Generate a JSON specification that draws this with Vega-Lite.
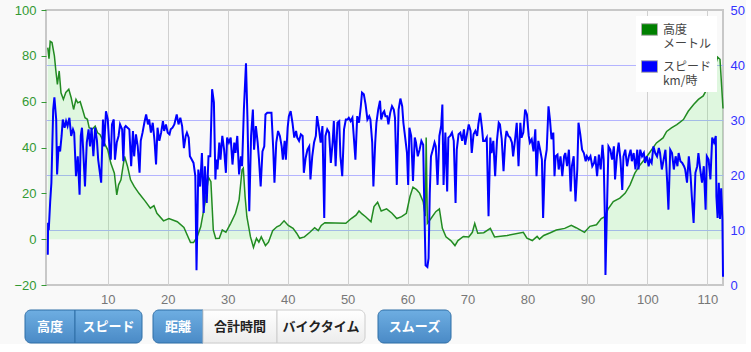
{
  "$schema": "https://vega.github.io/schema/vega-lite/v6.json",
  "background": "#f9f9f9",
  "padding": {"left": 12, "top": 3, "right": 0, "bottom": 0},
  "config": {"view": {"stroke": null}, "font": "Liberation Sans"},
  "resolve": {"legend": {"color": "independent"}},
  "datasets": {
    "alt": [
      {"km":0,"alt":83.6},{"km":0.2,"alt":78.8},{"km":0.4,"alt":86.3},{"km":0.7,"alt":85.8},{"km":1.1,"alt":80},{"km":1.35,"alt":73.4},{"km":1.6,"alt":67.5},{"km":1.9,"alt":73.4},{"km":2.2,"alt":63.9},{"km":2.6,"alt":61},{"km":3.0,"alt":64},{"km":3.5,"alt":65.4},{"km":3.9,"alt":61.7},{"km":4.3,"alt":56.6},{"km":4.7,"alt":61},{"km":5.0,"alt":59.5},{"km":5.4,"alt":60},{"km":5.8,"alt":56.6},{"km":6.2,"alt":53},{"km":6.6,"alt":52.3},{"km":6.9,"alt":48.6},{"km":7.4,"alt":48},{"km":7.9,"alt":49.3},{"km":8.3,"alt":46.4},{"km":8.7,"alt":45.7},{"km":9.4,"alt":42},{"km":10,"alt":39},{"km":10.5,"alt":33.2},{"km":11.1,"alt":28.8},{"km":11.5,"alt":19.3},{"km":11.8,"alt":23.7},{"km":12.2,"alt":25.9},{"km":12.8,"alt":36.1},{"km":13.3,"alt":31.7},{"km":13.8,"alt":25.9},{"km":14.4,"alt":23},{"km":15.2,"alt":20},{"km":16.3,"alt":16.4},{"km":17.1,"alt":13.5},{"km":17.7,"alt":14.6},{"km":18.2,"alt":11.3},{"km":19.3,"alt":8},{"km":20.2,"alt":9},{"km":21.6,"alt":7.6},{"km":22.7,"alt":5.1},{"km":23.8,"alt":-1.5},{"km":24.3,"alt":-1.5},{"km":24.9,"alt":1},{"km":25.5,"alt":5.4},{"km":26.2,"alt":15.6},{"km":26.8,"alt":27},{"km":27.2,"alt":25.1},{"km":27.6,"alt":4},{"km":28.0,"alt":0.3},{"km":28.6,"alt":0.4},{"km":29.1,"alt":4},{"km":29.7,"alt":3},{"km":30.5,"alt":6.9},{"km":31.3,"alt":11.3},{"km":31.9,"alt":17.1},{"km":32.4,"alt":30.3},{"km":32.6,"alt":31},{"km":32.9,"alt":18.6},{"km":33.2,"alt":9.8},{"km":33.8,"alt":1},{"km":34.3,"alt":-3.6},{"km":34.8,"alt":0.4},{"km":35.2,"alt":-1.3},{"km":35.6,"alt":1},{"km":36.3,"alt":-2.8},{"km":36.8,"alt":-1.3},{"km":37.5,"alt":3.7},{"km":38.2,"alt":5.4},{"km":38.7,"alt":6},{"km":39.4,"alt":8},{"km":40.1,"alt":6},{"km":40.9,"alt":4.7},{"km":41.5,"alt":2.6},{"km":42,"alt":0.4},{"km":42.8,"alt":1},{"km":43.7,"alt":3},{"km":44.5,"alt":5},{"km":45.1,"alt":3.7},{"km":45.6,"alt":6},{"km":46.2,"alt":7.2},{"km":49.7,"alt":6.9},{"km":50.6,"alt":9},{"km":51.4,"alt":10.5},{"km":51.9,"alt":12.3},{"km":52.4,"alt":11},{"km":53,"alt":9.8},{"km":53.9,"alt":7.6},{"km":54.4,"alt":14.2},{"km":55,"alt":16.1},{"km":55.6,"alt":12.3},{"km":56.5,"alt":13.2},{"km":57.4,"alt":11.3},{"km":58.2,"alt":9},{"km":59,"alt":9.8},{"km":59.8,"alt":11.3},{"km":60.4,"alt":18.6},{"km":60.9,"alt":22.7},{"km":61.5,"alt":21.6},{"km":62,"alt":20.1},{"km":62.6,"alt":16.4},{"km":62.95,"alt":10},{"km":63.1,"alt":44.4},{"km":63.3,"alt":6.9},{"km":63.9,"alt":9},{"km":64.7,"alt":12},{"km":65.3,"alt":13.2},{"km":65.8,"alt":4.7},{"km":66.4,"alt":1},{"km":67.2,"alt":-0.6},{"km":67.9,"alt":-2.8},{"km":68.4,"alt":-0.6},{"km":69.3,"alt":1.2},{"km":70.2,"alt":1},{"km":70.8,"alt":3},{"km":71.2,"alt":6.9},{"km":71.7,"alt":2.6},{"km":72.7,"alt":2.8},{"km":73.8,"alt":4.7},{"km":74.5,"alt":1},{"km":76.6,"alt":1.6},{"km":79.3,"alt":3},{"km":79.9,"alt":0.4},{"km":80.8,"alt":-0.6},{"km":81.6,"alt":1.2},{"km":82,"alt":0},{"km":82.7,"alt":1.6},{"km":83.8,"alt":2.8},{"km":84.8,"alt":4},{"km":86.2,"alt":4.7},{"km":87.3,"alt":6},{"km":88.1,"alt":5},{"km":89.5,"alt":3},{"km":90.4,"alt":5.6},{"km":91.5,"alt":6.3},{"km":92.3,"alt":9},{"km":92.9,"alt":9.8},{"km":93.4,"alt":13},{"km":94.3,"alt":16.4},{"km":95.4,"alt":17.9},{"km":96.3,"alt":20.1},{"km":97.1,"alt":23.7},{"km":97.9,"alt":28.8},{"km":98.8,"alt":32.5},{"km":99.9,"alt":36.1},{"km":100.7,"alt":39},{"km":101.5,"alt":42},{"km":102.6,"alt":44.2},{"km":103.2,"alt":47},{"km":104,"alt":48.6},{"km":104.9,"alt":50},{"km":106,"alt":52.2},{"km":106.8,"alt":55.8},{"km":107.7,"alt":58.8},{"km":108.5,"alt":61},{"km":109.3,"alt":62.5},{"km":109.9,"alt":65.4},{"km":110.3,"alt":67.5},{"km":110.7,"alt":74},{"km":111,"alt":71.8},{"km":111.3,"alt":75.5},{"km":111.7,"alt":79.4},{"km":112.1,"alt":78.5},{"km":112.6,"alt":57}
    ],
    "spd": [
      {"km":0,"spd":5.5},{"km":0.05,"spd":11.3},{"km":0.16,"spd":10},{"km":0.4,"spd":15.2},{"km":0.6,"spd":18.6},{"km":0.9,"spd":31.9},{"km":1.1,"spd":34.1},{"km":1.4,"spd":30.1},{"km":1.55,"spd":20.1},{"km":1.8,"spd":25.2},{"km":2.05,"spd":24.3},{"km":2.3,"spd":27.1},{"km":2.5,"spd":30.1},{"km":2.8,"spd":28.6},{"km":3.05,"spd":29.8},{"km":3.3,"spd":28.9},{"km":3.6,"spd":30.4},{"km":3.9,"spd":27.1},{"km":4.2,"spd":28.3},{"km":4.4,"spd":27.7},{"km":4.7,"spd":19.8},{"km":5.0,"spd":23.4},{"km":5.3,"spd":16.4},{"km":5.5,"spd":27.1},{"km":5.7,"spd":28.6},{"km":5.9,"spd":24.6},{"km":6.2,"spd":17.9},{"km":6.5,"spd":25.9},{"km":6.8,"spd":28.3},{"km":7.05,"spd":25.2},{"km":7.3,"spd":28.6},{"km":7.6,"spd":23.4},{"km":7.9,"spd":28.6},{"km":8.2,"spd":26.2},{"km":8.4,"spd":22.8},{"km":8.9,"spd":18.6},{"km":9.2,"spd":30.1},{"km":9.4,"spd":25.2},{"km":9.7,"spd":31.6},{"km":10,"spd":30.1},{"km":10.3,"spd":24.6},{"km":10.5,"spd":22.8},{"km":10.7,"spd":29.2},{"km":11,"spd":30.1},{"km":11.2,"spd":22.8},{"km":11.5,"spd":25.9},{"km":11.8,"spd":27.1},{"km":12.05,"spd":29.2},{"km":12.4,"spd":28.3},{"km":12.6,"spd":22.5},{"km":12.8,"spd":28.6},{"km":13,"spd":28.9},{"km":13.3,"spd":28.6},{"km":13.6,"spd":28.3},{"km":13.9,"spd":21.6},{"km":14.2,"spd":28},{"km":14.4,"spd":23.4},{"km":14.7,"spd":27.4},{"km":15,"spd":25.2},{"km":15.3,"spd":20.4},{"km":15.5,"spd":26.2},{"km":15.8,"spd":27.7},{"km":16.1,"spd":29.5},{"km":16.4,"spd":31},{"km":16.7,"spd":29.2},{"km":16.9,"spd":30.1},{"km":17.2,"spd":27.7},{"km":17.5,"spd":29.5},{"km":17.8,"spd":26.2},{"km":18.05,"spd":21.9},{"km":18.3,"spd":28.6},{"km":18.6,"spd":26.2},{"km":18.9,"spd":27.7},{"km":19.2,"spd":29.8},{"km":19.4,"spd":28},{"km":19.7,"spd":29.2},{"km":20,"spd":27.7},{"km":20.3,"spd":27.4},{"km":20.5,"spd":28.3},{"km":20.8,"spd":28.6},{"km":21.1,"spd":29.2},{"km":21.5,"spd":31},{"km":21.8,"spd":29.2},{"km":22.1,"spd":30.4},{"km":22.4,"spd":28.9},{"km":22.7,"spd":24.9},{"km":23,"spd":27.1},{"km":23.2,"spd":27.7},{"km":23.5,"spd":26.8},{"km":23.7,"spd":23.4},{"km":24,"spd":22.8},{"km":24.3,"spd":22.2},{"km":24.6,"spd":19.8},{"km":24.8,"spd":2.7},{"km":25.1,"spd":21},{"km":25.4,"spd":17.9},{"km":25.7,"spd":24},{"km":26,"spd":13.1},{"km":26.2,"spd":21.6},{"km":26.5,"spd":14.9},{"km":26.8,"spd":23.4},{"km":27.1,"spd":23.4},{"km":27.4,"spd":35.6},{"km":27.7,"spd":33.2},{"km":27.95,"spd":19.2},{"km":28.1,"spd":22.8},{"km":28.3,"spd":21},{"km":28.6,"spd":25.9},{"km":28.8,"spd":22.8},{"km":29.1,"spd":27.1},{"km":29.4,"spd":24.6},{"km":29.7,"spd":20.4},{"km":29.9,"spd":26.8},{"km":30.2,"spd":25.9},{"km":30.5,"spd":26.8},{"km":30.8,"spd":21.9},{"km":31.1,"spd":25.9},{"km":31.3,"spd":24},{"km":31.6,"spd":27.1},{"km":31.9,"spd":20.1},{"km":32.2,"spd":23.4},{"km":32.4,"spd":21.6},{"km":32.7,"spd":31.9},{"km":33.05,"spd":40.3},{"km":33.3,"spd":30.1},{"km":33.6,"spd":13.4},{"km":33.9,"spd":27.1},{"km":34.2,"spd":31.9},{"km":34.4,"spd":24.6},{"km":34.7,"spd":28.9},{"km":35,"spd":25.9},{"km":35.2,"spd":23.1},{"km":35.5,"spd":17.9},{"km":35.8,"spd":24.3},{"km":36.1,"spd":25.2},{"km":36.3,"spd":31},{"km":36.6,"spd":31.3},{"km":36.9,"spd":31.3},{"km":37.3,"spd":31.3},{"km":37.6,"spd":24.6},{"km":37.8,"spd":18.6},{"km":38.1,"spd":25.9},{"km":38.4,"spd":28},{"km":38.7,"spd":27.1},{"km":39,"spd":25.2},{"km":39.2,"spd":22.8},{"km":39.5,"spd":26.2},{"km":39.7,"spd":22.8},{"km":40,"spd":28.6},{"km":40.2,"spd":30.7},{"km":40.5,"spd":31.6},{"km":40.8,"spd":29.5},{"km":41.1,"spd":26.8},{"km":41.4,"spd":28},{"km":41.6,"spd":26.8},{"km":41.9,"spd":26.2},{"km":42.2,"spd":27.4},{"km":42.5,"spd":27.1},{"km":42.7,"spd":20.4},{"km":43,"spd":23.1},{"km":43.3,"spd":24.6},{"km":43.6,"spd":25.2},{"km":43.8,"spd":19.2},{"km":44.1,"spd":23.4},{"km":44.4,"spd":25.9},{"km":44.7,"spd":27.1},{"km":44.9,"spd":30.7},{"km":45.2,"spd":28.6},{"km":45.5,"spd":25.9},{"km":45.8,"spd":28.9},{"km":46.1,"spd":12.2},{"km":46.3,"spd":27.1},{"km":46.6,"spd":28.3},{"km":46.9,"spd":27.7},{"km":47.2,"spd":22.2},{"km":47.5,"spd":25.9},{"km":47.7,"spd":29.8},{"km":48,"spd":21.6},{"km":48.3,"spd":29.5},{"km":48.6,"spd":29.8},{"km":48.8,"spd":23.4},{"km":49.1,"spd":19.8},{"km":49.4,"spd":28.3},{"km":49.7,"spd":30.1},{"km":50,"spd":30.1},{"km":50.2,"spd":30.4},{"km":50.5,"spd":29.8},{"km":50.8,"spd":30.4},{"km":51,"spd":27.4},{"km":51.3,"spd":22.8},{"km":51.6,"spd":30.7},{"km":51.9,"spd":29.5},{"km":52.2,"spd":32.5},{"km":52.4,"spd":35},{"km":52.7,"spd":34.7},{"km":53,"spd":32.8},{"km":53.3,"spd":30.1},{"km":53.6,"spd":30.7},{"km":53.8,"spd":30.1},{"km":54.1,"spd":25.9},{"km":54.3,"spd":17.9},{"km":54.6,"spd":25.9},{"km":54.8,"spd":29.5},{"km":55.1,"spd":31.9},{"km":55.4,"spd":33.5},{"km":55.6,"spd":30.1},{"km":55.9,"spd":31.3},{"km":56.1,"spd":31.6},{"km":56.3,"spd":30.7},{"km":56.6,"spd":30.7},{"km":56.8,"spd":29.2},{"km":57.1,"spd":31.3},{"km":57.4,"spd":32.5},{"km":57.7,"spd":31.9},{"km":57.9,"spd":30.4},{"km":58.2,"spd":18.2},{"km":58.5,"spd":31.9},{"km":58.8,"spd":33.9},{"km":59.1,"spd":32.5},{"km":59.3,"spd":29.5},{"km":59.6,"spd":26.8},{"km":59.9,"spd":24},{"km":60.1,"spd":18.2},{"km":60.3,"spd":28.6},{"km":60.6,"spd":27.1},{"km":60.9,"spd":18.9},{"km":61.2,"spd":26.8},{"km":61.4,"spd":25.9},{"km":61.7,"spd":23.4},{"km":62,"spd":24.6},{"km":62.3,"spd":26.2},{"km":62.6,"spd":25.5},{"km":62.8,"spd":13.7},{"km":63,"spd":3.6},{"km":63.3,"spd":3.3},{"km":63.5,"spd":4.9},{"km":63.7,"spd":16.7},{"km":63.9,"spd":23.4},{"km":64.2,"spd":24.6},{"km":64.5,"spd":25.9},{"km":64.7,"spd":25.2},{"km":65,"spd":18.2},{"km":65.3,"spd":27.1},{"km":65.6,"spd":28.9},{"km":65.8,"spd":32.8},{"km":66,"spd":18.2},{"km":66.3,"spd":27.7},{"km":66.6,"spd":17},{"km":66.8,"spd":26.8},{"km":67.1,"spd":27.1},{"km":67.4,"spd":27.7},{"km":67.7,"spd":26.2},{"km":68,"spd":14.9},{"km":68.2,"spd":24.6},{"km":68.5,"spd":27.4},{"km":68.8,"spd":27.7},{"km":69.1,"spd":26.2},{"km":69.4,"spd":28.3},{"km":69.6,"spd":25.5},{"km":69.9,"spd":27.4},{"km":70.2,"spd":29.2},{"km":70.5,"spd":28},{"km":70.7,"spd":24},{"km":71,"spd":27.4},{"km":71.3,"spd":28},{"km":71.6,"spd":27.1},{"km":71.8,"spd":29.2},{"km":72.1,"spd":31.3},{"km":72.4,"spd":28.6},{"km":72.6,"spd":26.2},{"km":72.9,"spd":26.2},{"km":73.2,"spd":26.8},{"km":73.5,"spd":12.5},{"km":73.8,"spd":26.8},{"km":74,"spd":24},{"km":74.3,"spd":26.2},{"km":74.6,"spd":19.8},{"km":74.9,"spd":26.2},{"km":75.2,"spd":29.5},{"km":75.4,"spd":29.2},{"km":75.7,"spd":26.5},{"km":76,"spd":20.7},{"km":76.3,"spd":26.5},{"km":76.5,"spd":28},{"km":76.8,"spd":27.1},{"km":77.1,"spd":26.8},{"km":77.4,"spd":25.9},{"km":77.6,"spd":23.4},{"km":77.9,"spd":26.2},{"km":78.2,"spd":29.5},{"km":78.5,"spd":21.6},{"km":78.8,"spd":29.5},{"km":79,"spd":26.8},{"km":79.3,"spd":27.7},{"km":79.6,"spd":31.9},{"km":79.9,"spd":31},{"km":80.2,"spd":27.1},{"km":80.4,"spd":25.9},{"km":80.7,"spd":26.5},{"km":81,"spd":24.3},{"km":81.3,"spd":28.3},{"km":81.5,"spd":19.8},{"km":81.8,"spd":26.2},{"km":82.1,"spd":24.6},{"km":82.4,"spd":22.8},{"km":82.6,"spd":12.2},{"km":82.9,"spd":22.5},{"km":83.2,"spd":24.6},{"km":83.5,"spd":32.5},{"km":83.75,"spd":30},{"km":84,"spd":26.5},{"km":84.3,"spd":27.7},{"km":84.5,"spd":19.8},{"km":84.7,"spd":23.4},{"km":85,"spd":23.7},{"km":85.2,"spd":21},{"km":85.5,"spd":23.4},{"km":85.8,"spd":19.8},{"km":86.1,"spd":23.4},{"km":86.3,"spd":24},{"km":86.6,"spd":21.6},{"km":86.9,"spd":24.6},{"km":87.2,"spd":17},{"km":87.4,"spd":21.6},{"km":87.7,"spd":23.4},{"km":88,"spd":15.2},{"km":88.3,"spd":21},{"km":88.5,"spd":29.5},{"km":88.8,"spd":27.4},{"km":89.1,"spd":24.6},{"km":89.4,"spd":24},{"km":89.7,"spd":22.5},{"km":89.9,"spd":23.4},{"km":90.2,"spd":22.8},{"km":90.5,"spd":23.4},{"km":90.8,"spd":21.6},{"km":91.1,"spd":22.2},{"km":91.3,"spd":23.4},{"km":91.6,"spd":19.8},{"km":91.9,"spd":23.7},{"km":92.2,"spd":21},{"km":92.5,"spd":25.5},{"km":92.7,"spd":22.8},{"km":92.9,"spd":12.5},{"km":93.0,"spd":1.8},{"km":93.3,"spd":16.1},{"km":93.5,"spd":25.2},{"km":93.8,"spd":24.6},{"km":94.1,"spd":22.8},{"km":94.4,"spd":25.2},{"km":94.6,"spd":19.2},{"km":94.9,"spd":23.4},{"km":95.2,"spd":25.9},{"km":95.5,"spd":22.8},{"km":95.8,"spd":17.3},{"km":96,"spd":23.4},{"km":96.3,"spd":24.6},{"km":96.6,"spd":21.6},{"km":96.9,"spd":23.4},{"km":97.2,"spd":24.6},{"km":97.4,"spd":22.5},{"km":97.7,"spd":24},{"km":98,"spd":21},{"km":98.3,"spd":24.6},{"km":98.5,"spd":21},{"km":98.8,"spd":24.6},{"km":99.1,"spd":23.4},{"km":99.4,"spd":24},{"km":99.6,"spd":22.2},{"km":99.9,"spd":23.4},{"km":100.2,"spd":21.6},{"km":100.4,"spd":22.8},{"km":100.7,"spd":22.2},{"km":101,"spd":25.2},{"km":101.3,"spd":24},{"km":101.6,"spd":23.4},{"km":101.9,"spd":24.9},{"km":102.1,"spd":24},{"km":102.4,"spd":21},{"km":102.7,"spd":22.8},{"km":103,"spd":24.6},{"km":103.3,"spd":18.6},{"km":103.5,"spd":13.7},{"km":103.8,"spd":24.6},{"km":104.1,"spd":24},{"km":104.4,"spd":21},{"km":104.7,"spd":23.4},{"km":105,"spd":21.6},{"km":105.2,"spd":24},{"km":105.5,"spd":22.5},{"km":105.8,"spd":22.2},{"km":106.1,"spd":21.6},{"km":106.3,"spd":21},{"km":106.6,"spd":18.6},{"km":106.9,"spd":23.4},{"km":107.2,"spd":19.8},{"km":107.4,"spd":16.1},{"km":107.7,"spd":11.3},{"km":108,"spd":20.4},{"km":108.3,"spd":21.6},{"km":108.5,"spd":24},{"km":108.8,"spd":21},{"km":109.1,"spd":18.6},{"km":109.4,"spd":21.6},{"km":109.7,"spd":13.7},{"km":109.9,"spd":23.4},{"km":110.2,"spd":22.8},{"km":110.5,"spd":19.2},{"km":110.8,"spd":26.8},{"km":111.1,"spd":25.9},{"km":111.4,"spd":27.1},{"km":111.5,"spd":16.1},{"km":111.7,"spd":12.2},{"km":111.9,"spd":18.6},{"km":112.1,"spd":12},{"km":112.3,"spd":17.6},{"km":112.5,"spd":12},{"km":112.6,"spd":1.5}
    ],
    "series": [{"系列": "高度"}, {"系列": "スピード"}]
  },
  "vconcat": [
    {
      "width": 677,
      "height": 275,
      "view": {"stroke": "#c8c8c8", "strokeWidth": 2},
      "layer": [
        {
          "data": {"name": "alt"},
          "encoding": {
            "x": {
              "field": "km", "type": "quantitative",
              "scale": {"domain": [-0.3, 112.6], "nice": false, "zero": false},
              "axis": {"title": null, "values": [10,20,30,40,50,60,70,80,90,100,110], "grid": true, "gridColor": "#d0d0d0", "ticks": false, "domain": false, "labelColor": "#777777", "labelFontSize": 13, "labelPadding": 8, "labelFont": "Liberation Sans"}
            },
            "y": {
              "field": "alt", "type": "quantitative",
              "scale": {"domain": [-20, 100], "nice": false},
              "axis": {"orient": "left", "title": null, "values": [-20,0,20,40,60,80,100], "grid": false, "domain": false, "tickColor": "#339933", "tickSize": 5, "labelColor": "#339933", "labelFontSize": 13, "labelPadding": 5, "labelFont": "Liberation Sans"}
            }
          },
          "layer": [
            {"mark": {"type": "area", "color": "#33ee33", "opacity": 0.13}},
            {"mark": {"type": "line", "color": "#228b22", "strokeWidth": 1.5}}
          ]
        },
        {
          "data": {"name": "spd"},
          "mark": {"type": "line", "color": "#0000ff", "strokeWidth": 2},
          "encoding": {
            "x": {"field": "km", "type": "quantitative"},
            "y": {
              "field": "spd", "type": "quantitative",
              "scale": {"domain": [0, 50], "nice": false},
              "axis": {"orient": "right", "title": null, "values": [0,10,20,30,40,50], "grid": true, "gridColor": {"condition": {"test": "datum.value == 0 || datum.value == 50", "value": "transparent"}, "value": "#b4b4ff"}, "ticks": false, "domain": false, "labelColor": "#3333ff", "labelFontSize": 13, "labelPadding": 7, "labelFont": "Liberation Sans"}
            }
          }
        },
        {
          "data": {"name": "series"},
          "transform": [{"filter": "false"}],
          "mark": {"type": "square"},
          "encoding": {
            "color": {
              "field": "系列", "type": "nominal",
              "scale": {"domain": ["高度", "スピード"], "range": ["#008000", "#0000ff"]},
              "legend": {
                "title": null, "orient": "top-right", "offset": 6, "fillColor": "#ffffff", "padding": 5,
                "symbolType": "M-1,-0.72L1,-0.72L1,0.72L-1,0.72Z", "symbolSize": 256, "symbolStrokeColor": "#aaaaaa", "symbolStrokeWidth": 1, "symbolOpacity": 1,
                "labelFont": "Noto Sans CJK JP", "labelFontSize": 12, "labelColor": "#444444", "labelOffset": 5, "labelLimit": 200, "rowPadding": 8,
                "labelExpr": "datum.label == '高度' ? ['高度', 'メートル'] : ['スピード', 'km/時']"
              }
            }
          }
        }
      ],
      "resolve": {"scale": {"y": "independent"}, "legend": {"color": "independent"}}
    },
    {
      "spacing": 0,
      "bounds": "flush",
      "hconcat": [
        {
          "width": 50, "height": 33,
          "data": {"values": [{"ボタン": "高度"}]},
          "encoding": {"x": {"field": "ボタン", "type": "nominal", "axis": null, "scale": {"paddingInner": 0, "paddingOuter": 0}}},
          "layer": [
            {"mark": {"type": "rect", "xOffset": -21, "cornerRadiusTopLeft": 6, "cornerRadiusBottomLeft": 6, "stroke": "#2f6ea6", "strokeWidth": 1, "fill": {"gradient": "linear", "x1": 0, "y1": 0, "x2": 0, "y2": 1, "stops": [{"offset": 0, "color": "#6eaee2"}, {"offset": 1, "color": "#4a8ac6"}]}}},
            {"mark": {"type": "text", "xOffset": -21, "font": "Noto Sans CJK JP", "fontSize": 13, "fontWeight": "bold", "color": "#ffffff"}, "encoding": {"text": {"field": "ボタン"}}}
          ]
        },
        {
          "width": 67, "height": 33,
          "data": {"values": [{"ボタン": "スピード"}]},
          "encoding": {"x": {"field": "ボタン", "type": "nominal", "axis": null, "scale": {"paddingInner": 0, "paddingOuter": 0}}},
          "layer": [
            {"mark": {"type": "rect", "xOffset": -21, "cornerRadiusTopRight": 6, "cornerRadiusBottomRight": 6, "stroke": "#2f6ea6", "strokeWidth": 1, "fill": {"gradient": "linear", "x1": 0, "y1": 0, "x2": 0, "y2": 1, "stops": [{"offset": 0, "color": "#6eaee2"}, {"offset": 1, "color": "#4a8ac6"}]}}},
            {"mark": {"type": "text", "xOffset": -21, "font": "Noto Sans CJK JP", "fontSize": 13, "fontWeight": "bold", "color": "#ffffff"}, "encoding": {"text": {"field": "ボタン"}}}
          ]
        },
        {
          "width": 11, "height": 33,
          "data": {"values": [{"ボタン": "間1"}]},
          "encoding": {"x": {"field": "ボタン", "type": "nominal", "axis": null}},
          "mark": {"type": "rect", "opacity": 0}
        },
        {
          "width": 50, "height": 33,
          "data": {"values": [{"ボタン": "距離"}]},
          "encoding": {"x": {"field": "ボタン", "type": "nominal", "axis": null, "scale": {"paddingInner": 0, "paddingOuter": 0}}},
          "layer": [
            {"mark": {"type": "rect", "xOffset": -21, "cornerRadiusTopLeft": 6, "cornerRadiusBottomLeft": 6, "stroke": "#2f6ea6", "strokeWidth": 1, "fill": {"gradient": "linear", "x1": 0, "y1": 0, "x2": 0, "y2": 1, "stops": [{"offset": 0, "color": "#6eaee2"}, {"offset": 1, "color": "#4a8ac6"}]}}},
            {"mark": {"type": "text", "xOffset": -21, "font": "Noto Sans CJK JP", "fontSize": 13, "fontWeight": "bold", "color": "#ffffff"}, "encoding": {"text": {"field": "ボタン"}}}
          ]
        },
        {
          "width": 74, "height": 33,
          "data": {"values": [{"ボタン": "合計時間"}]},
          "encoding": {"x": {"field": "ボタン", "type": "nominal", "axis": null, "scale": {"paddingInner": 0, "paddingOuter": 0}}},
          "layer": [
            {"mark": {"type": "rect", "xOffset": -21, "stroke": "#cccccc", "strokeWidth": 1, "fill": {"gradient": "linear", "x1": 0, "y1": 0, "x2": 0, "y2": 1, "stops": [{"offset": 0, "color": "#ffffff"}, {"offset": 1, "color": "#ececec"}]}}},
            {"mark": {"type": "text", "xOffset": -21, "font": "Noto Sans CJK JP", "fontSize": 13, "fontWeight": "bold", "color": "#222222"}, "encoding": {"text": {"field": "ボタン"}}}
          ]
        },
        {
          "width": 88, "height": 33,
          "data": {"values": [{"ボタン": "バイクタイム"}]},
          "encoding": {"x": {"field": "ボタン", "type": "nominal", "axis": null, "scale": {"paddingInner": 0, "paddingOuter": 0}}},
          "layer": [
            {"mark": {"type": "rect", "xOffset": -21, "cornerRadiusTopRight": 6, "cornerRadiusBottomRight": 6, "stroke": "#cccccc", "strokeWidth": 1, "fill": {"gradient": "linear", "x1": 0, "y1": 0, "x2": 0, "y2": 1, "stops": [{"offset": 0, "color": "#ffffff"}, {"offset": 1, "color": "#ececec"}]}}},
            {"mark": {"type": "text", "xOffset": -21, "font": "Noto Sans CJK JP", "fontSize": 13, "fontWeight": "bold", "color": "#222222"}, "encoding": {"text": {"field": "ボタン"}}}
          ]
        },
        {
          "width": 13, "height": 33,
          "data": {"values": [{"ボタン": "間2"}]},
          "encoding": {"x": {"field": "ボタン", "type": "nominal", "axis": null}},
          "mark": {"type": "rect", "opacity": 0}
        },
        {
          "width": 73, "height": 33,
          "data": {"values": [{"ボタン": "スムーズ"}]},
          "encoding": {"x": {"field": "ボタン", "type": "nominal", "axis": null, "scale": {"paddingInner": 0, "paddingOuter": 0}}},
          "layer": [
            {"mark": {"type": "rect", "xOffset": -21, "cornerRadius": 6, "stroke": "#2f6ea6", "strokeWidth": 1, "fill": {"gradient": "linear", "x1": 0, "y1": 0, "x2": 0, "y2": 1, "stops": [{"offset": 0, "color": "#6eaee2"}, {"offset": 1, "color": "#4a8ac6"}]}}},
            {"mark": {"type": "text", "xOffset": -21, "font": "Noto Sans CJK JP", "fontSize": 13, "fontWeight": "bold", "color": "#ffffff"}, "encoding": {"text": {"field": "ボタン"}}}
          ]
        }
      ]
    }
  ],
  "spacing": 2
}
